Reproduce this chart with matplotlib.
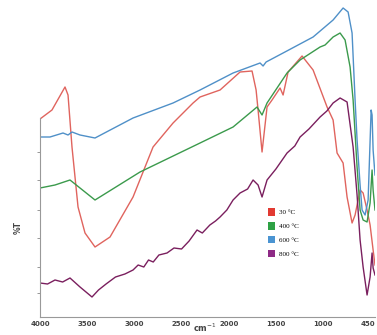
import matplotlib
matplotlib.use("Agg")
import matplotlib.pyplot as plt
from matplotlib.patches import Patch

# wavenumber (cm-1) / transmittance (arbitrary units)
wn_30 = [4000, 3873, 3735, 3703, 3661, 3597, 3523, 3417, 3258, 3014, 2802, 2590, 2378, 2304,
         2092, 1880, 1753, 1710, 1689, 1647, 1594, 1541, 1456, 1424, 1371, 1223, 1106, 958,
         894, 852, 820, 788, 746, 693, 661, 608, 576, 534, 502, 470, 450]
t_30 = [198, 207, 230, 222, 170, 110, 84, 70, 80, 120, 170, 194, 214, 220,
        227, 245, 246, 227, 207, 165, 210, 217, 229, 222, 245, 261, 247, 210,
        197, 164, 159, 154, 120, 94, 102, 127, 124, 107, 92, 67, 52]

wn_400 = [4000, 3841, 3682, 3576, 3417, 2940, 2304, 1954, 1700, 1647, 1594, 1382, 1244, 1032,
          979, 894, 820, 767, 714, 682, 640, 608, 576, 534, 502, 481, 470, 450]
t_400 = [129, 132, 137, 129, 117, 145, 174, 190, 210, 202, 214, 244, 257, 270,
         272, 280, 284, 277, 250, 217, 150, 107, 97, 95, 114, 147, 127, 107]

wn_600 = [4000, 3894, 3756, 3703, 3661, 3576, 3417, 3014, 2590, 2304, 1954, 1668, 1636, 1604,
          1424, 1106, 894, 788, 735, 693, 661, 640, 608, 587, 555, 523, 491, 481, 470, 450]
t_600 = [180, 180, 184, 182, 185, 182, 179, 199, 214, 227, 244, 254, 251, 255,
         264, 280, 297, 309, 305, 284, 217, 177, 132, 107, 102, 117, 207, 202, 167, 142]

wn_800 = [4000, 3920, 3841, 3760, 3682, 3576, 3449, 3380, 3300, 3200, 3100, 3014, 2960, 2900,
          2850, 2800, 2740, 2654, 2580, 2500, 2420, 2336, 2280, 2200, 2140, 2092, 2020, 1954,
          1880, 1800, 1742, 1689, 1647, 1594, 1500, 1382, 1300, 1244, 1150, 1032, 960, 894,
          820, 746, 682, 640, 608, 576, 534, 502, 481, 470, 450]
t_800 = [34, 33, 37, 35, 39, 30, 20, 27, 33, 40, 43, 47, 52, 50,
         57, 55, 62, 64, 69, 68, 76, 87, 84, 92, 96, 100, 107, 117,
         124, 128, 137, 132, 120, 137, 148, 164, 171, 180, 188, 200, 206, 214,
         219, 215, 170, 122, 77, 50, 22, 40, 64, 49, 42]

labels = ["30 \u00b0C", "400 \u00b0C", "600 \u00b0C", "800 \u00b0C"]
line_colors = ["#e0645e", "#3b9a4c", "#4f90c8", "#7a1f5e"]
box_colors = ["#e23a32", "#2ea145", "#4a94d2", "#8e2a86"]

fig = plt.figure(figsize=(3.77, 3.35), dpi=100)
ax = fig.add_axes([40 / 377, 18 / 335, 335 / 377, 317 / 335])

for wn, t, c in zip([wn_30, wn_400, wn_600, wn_800], [t_30, t_400, t_600, t_800], line_colors):
    ax.plot(wn, t, color=c, lw=1.0)

ax.set_xlim(4000, 450)
ax.set_ylim(0, 317)
ax.set_xticks([4000, 3500, 3000, 2500, 2000, 1500, 1000, 450])
ax.set_xticklabels(["4000", "3500", "3000", "2500", "2000", "1500", "1000", "450"],
                   fontsize=5, color="#444444", fontweight="bold")
ax.get_xticklabels()[-1].set_horizontalalignment("right")
ax.tick_params(axis="x", length=0, pad=3)
ax.set_yticks([24, 50, 79, 107, 137, 165])
ax.set_yticklabels([])
ax.tick_params(axis="y", length=2, width=0.6, color="#888888")
ax.spines["top"].set_visible(False)
ax.spines["right"].set_visible(False)
ax.spines["left"].set_bounds(0, 199)
for s in ["left", "bottom"]:
    ax.spines[s].set_color("#999999")
    ax.spines[s].set_linewidth(0.8)

fig.text(18 / 377, 1 - 228 / 335, "%T", rotation=90, fontsize=5.5, fontweight="bold",
         color="#444444", ha="center", va="center")
fig.text(205 / 377, 1 - 334 / 335, "cm$^{-1}$", fontsize=6, fontweight="bold",
         color="#444444", ha="center", va="bottom")

handles = [Patch(facecolor=c, edgecolor="none") for c in box_colors]
ax.legend(handles, labels, loc="upper left", bbox_to_anchor=(222 / 335, 1 - 202 / 317),
          frameon=False, handlelength=1.0, handleheight=1.3, labelspacing=0.9,
          handletextpad=0.5, prop={"family": ["Liberation Serif", "DejaVu Serif"], "size": 5})

fig.savefig("out.png", dpi=100, facecolor="white")
